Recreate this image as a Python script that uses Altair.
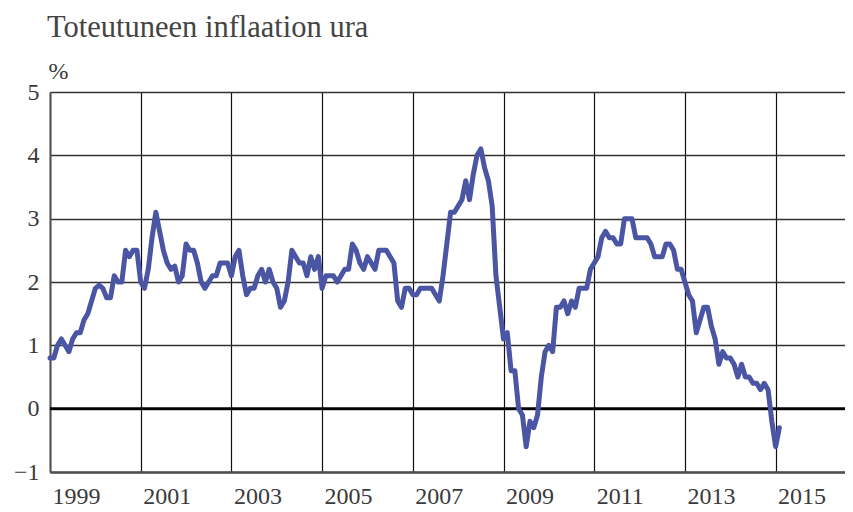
import altair as alt
import pandas as pd

# Euro area HICP, annual % change, monthly (Jan 1999 - Feb 2015)
v1999 = [0.8, 0.8, 1.0, 1.1, 1.0, 0.9, 1.1, 1.2, 1.2, 1.4, 1.5, 1.7]
v2000 = [1.9, 1.95, 1.9, 1.75, 1.75, 2.1, 2.0, 2.0, 2.5, 2.4, 2.5, 2.5]
v2001 = [2.0, 1.9, 2.2, 2.7, 3.1, 2.8, 2.5, 2.3, 2.2, 2.25, 2.0, 2.1]
v2002 = [2.6, 2.5, 2.5, 2.3, 2.0, 1.9, 2.0, 2.1, 2.1, 2.3, 2.3, 2.3]
v2003 = [2.1, 2.4, 2.5, 2.1, 1.8, 1.9, 1.9, 2.1, 2.2, 2.0, 2.2, 2.0]
v2004 = [1.9, 1.6, 1.7, 2.0, 2.5, 2.4, 2.3, 2.3, 2.1, 2.4, 2.2, 2.4]
v2005 = [1.9, 2.1, 2.1, 2.1, 2.0, 2.1, 2.2, 2.2, 2.6, 2.5, 2.3, 2.2]
v2006 = [2.4, 2.3, 2.2, 2.5, 2.5, 2.5, 2.4, 2.3, 1.7, 1.6, 1.9, 1.9]
v2007 = [1.8, 1.8, 1.9, 1.9, 1.9, 1.9, 1.8, 1.7, 2.1, 2.6, 3.1, 3.1]
v2008 = [3.2, 3.3, 3.6, 3.3, 3.7, 4.0, 4.1, 3.8, 3.6, 3.2, 2.1, 1.6]
v2009 = [1.1, 1.2, 0.6, 0.6, 0.0, -0.1, -0.6, -0.2, -0.3, -0.1, 0.5, 0.9]
v2010 = [1.0, 0.9, 1.6, 1.6, 1.7, 1.5, 1.7, 1.6, 1.9, 1.9, 1.9, 2.2]
v2011 = [2.3, 2.4, 2.7, 2.8, 2.7, 2.7, 2.6, 2.6, 3.0, 3.0, 3.0, 2.7]
v2012 = [2.7, 2.7, 2.7, 2.6, 2.4, 2.4, 2.4, 2.6, 2.6, 2.5, 2.2, 2.2]
v2013 = [2.0, 1.8, 1.7, 1.2, 1.4, 1.6, 1.6, 1.3, 1.1, 0.7, 0.9, 0.8]
v2014 = [0.8, 0.7, 0.5, 0.7, 0.5, 0.5, 0.4, 0.4, 0.3, 0.4, 0.3, -0.2]
v2015 = [-0.6, -0.3]

start_year = 1999
year_ticks = [1999, 2001, 2003, 2005, 2007, 2009, 2011, 2013, 2015]
y_ticks = [-1, 0, 1, 2, 3, 4, 5]

values = (v1999 + v2000 + v2001 + v2002 + v2003 + v2004 + v2005 + v2006
          + v2007 + v2008 + v2009 + v2010 + v2011 + v2012 + v2013 + v2014 + v2015)
df = pd.DataFrame({
    "t": [start_year + i / 12 for i in range(len(values))],
    "v": values,
})

FONT = "Liberation Serif"
TXT = "#3a3a3a"

x_enc = alt.X(
    "t:Q",
    scale=alt.Scale(domain=[1999, 2016.53], nice=False, zero=False),
    axis=alt.Axis(
        values=year_ticks, format="d", title=None,
        grid=True, gridColor="#111111", gridWidth=1.2,
        ticks=False, domain=True, domainColor="#505050", domainWidth=2.5,
        labelFont=FONT, labelFontSize=24, labelColor=TXT,
        labelAlign="left", labelBaseline="top", labelPadding=12,
        labelOffset=2, labelFlush=False, labelOverlap=False,
    ),
)
y_enc = alt.Y(
    "v:Q",
    scale=alt.Scale(domain=[-1, 5], nice=False),
    axis=alt.Axis(
        values=y_ticks, format="d", title="%",
        titleAngle=0, titleAlign="left", titleBaseline="alphabetic",
        titleX=-2, titleY=-14, titleFont=FONT, titleFontSize=24,
        titleFontWeight="normal", titleColor=TXT,
        grid=True, gridColor="#333333", gridWidth=1.6,
        ticks=False, domain=True, domainColor="#505050", domainWidth=2,
        labelFont=FONT, labelFontSize=24, labelColor=TXT, labelPadding=11,
    ),
)

zero = alt.Chart(pd.DataFrame({"z": [0]})).mark_rule(
    color="black", strokeWidth=2.6
).encode(y=alt.Y("z:Q", scale=alt.Scale(domain=[-1, 5], nice=False)))

line = alt.Chart(df).mark_line(
    color="#4a55a3", strokeWidth=5, strokeJoin="round", strokeCap="round"
).encode(x=x_enc, y=y_enc)

chart = alt.layer(zero, line).properties(
    width=795,
    height=380,
    autosize=alt.AutoSizeParams(type="none"),
    padding={"left": 42, "top": 84, "right": 0, "bottom": 36},
    title=alt.TitleParams(
        "Toteutuneen inflaation ura", anchor="start", frame="group",
        font=FONT, fontSize=30.5, fontWeight="normal", color="#444444",
        baseline="alphabetic", offset=-8, dx=-3,
    ),
).configure_view(stroke=None).configure(background="white")

chart.save("out.html", embed_options={"renderer": "svg", "actions": False})
